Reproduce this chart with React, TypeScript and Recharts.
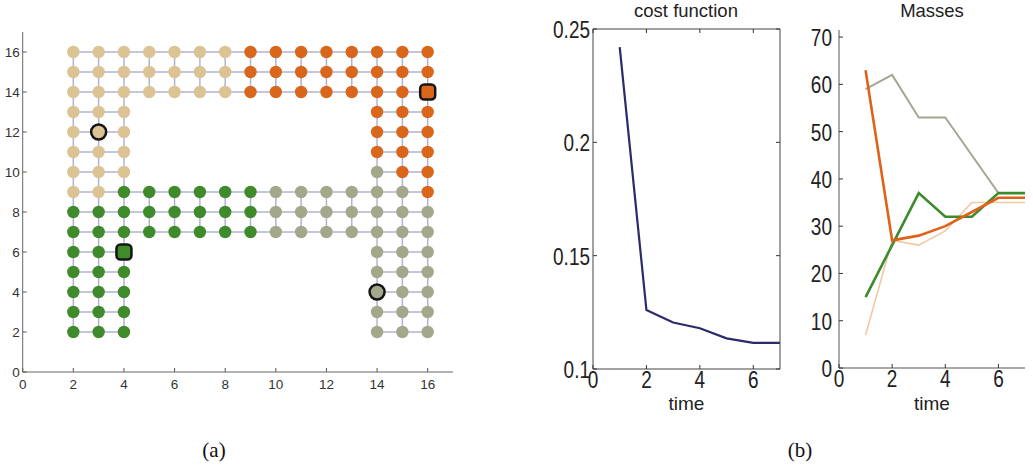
import React from 'react';
import { ScatterChart, Scatter, LineChart, Line, XAxis, YAxis, ReferenceLine } from 'recharts';

// panel (a): graph nodes, one row per y value -> list of x positions
type Row = [number, number[]];

const tanRows: Row[] = [
  [16, [2, 3, 4, 5, 6, 7, 8]],
  [15, [2, 3, 4, 5, 6, 7, 8]],
  [14, [2, 3, 4, 5, 6, 7, 8]],
  [13, [2, 3, 4]],
  [12, [2, 3, 4]],
  [11, [2, 3, 4]],
  [10, [2, 3, 4]],
  [9, [2, 3]],
];

const orangeRows: Row[] = [
  [16, [9, 10, 11, 12, 13, 14, 15, 16]],
  [15, [9, 10, 11, 12, 13, 14, 15, 16]],
  [14, [9, 10, 11, 12, 13, 14, 15, 16]],
  [13, [14, 15, 16]],
  [12, [14, 15, 16]],
  [11, [14, 15, 16]],
  [10, [15, 16]],
  [9, [16]],
];

const greenRows: Row[] = [
  [9, [4, 5, 6, 7, 8, 9]],
  [8, [2, 3, 4, 5, 6, 7, 8, 9]],
  [7, [2, 3, 4, 5, 6, 7, 8, 9]],
  [6, [2, 3, 4]],
  [5, [2, 3, 4]],
  [4, [2, 3, 4]],
  [3, [2, 3, 4]],
  [2, [2, 3, 4]],
];

const grayRows: Row[] = [
  [10, [14]],
  [9, [10, 11, 12, 13, 14, 15]],
  [8, [10, 11, 12, 13, 14, 15, 16]],
  [7, [10, 11, 12, 13, 14, 15, 16]],
  [6, [14, 15, 16]],
  [5, [14, 15, 16]],
  [4, [14, 15, 16]],
  [3, [14, 15, 16]],
  [2, [14, 15, 16]],
];

const tanCenter = [{ x: 3, y: 12 }];
const orangeCenter = [{ x: 16, y: 14 }];
const greenCenter = [{ x: 4, y: 6 }];
const grayCenter = [{ x: 14, y: 4 }];

const gridTicks = [0, 2, 4, 6, 8, 10, 12, 14, 16];

// panel (b)
const times = [1, 2, 3, 4, 5, 6, 7];
const costValues = [0.242, 0.126, 0.1205, 0.118, 0.1135, 0.1115, 0.1115];
const massGray = [59, 62, 53, 53, 45, 37, 37];
const massOrange = [63, 27, 28, 30, 33, 36, 36];
const massGreen = [15, 26, 37, 32, 32, 37, 37];
const massTan = [7, 27, 26, 29, 35, 35, 35];

const timeTicks = [0, 2, 4, 6];
const costTicks = [0.1, 0.15, 0.2, 0.25];
const massTicks = [0, 10, 20, 30, 40, 50, 60, 70];

const C = {
  tan: '#dcc394',
  orange: '#d9661b',
  green: '#3f8a2b',
  gray: '#a3a88b',
  edge: '#b0b3d6',
};

const FONT = '"Liberation Sans", Arial, sans-serif';

const toPoints = (rows: Row[]) => rows.flatMap(([y, xs]) => xs.map(x => ({ x, y })));

const tanNodes = toPoints(tanRows);
const orangeNodes = toPoints(orangeRows);
const greenNodes = toPoints(greenRows);
const grayNodes = toPoints(grayRows);

// edges join neighbouring nodes; collapse them into straight runs
function buildRuns(nodes: { x: number; y: number }[], horizontal: boolean) {
  const groups: Record<number, number[]> = {};
  nodes.forEach(n => {
    const k = horizontal ? n.y : n.x;
    const v = horizontal ? n.x : n.y;
    (groups[k] = groups[k] || []).push(v);
  });
  const segs: { x: number; y: number }[][] = [];
  Object.keys(groups).forEach(key => {
    const k = Number(key);
    const vals = groups[k].sort((a, b) => a - b);
    let start = vals[0];
    for (let i = 1; i <= vals.length; i++) {
      if (i === vals.length || vals[i] !== vals[i - 1] + 1) {
        const end = vals[i - 1];
        if (end > start) {
          segs.push(horizontal ? [{ x: start, y: k }, { x: end, y: k }] : [{ x: k, y: start }, { x: k, y: end }]);
        }
        start = vals[i];
      }
    }
  });
  return segs;
}

const allNodes = [...tanNodes, ...orangeNodes, ...greenNodes, ...grayNodes];
const edgeRuns = [...buildRuns(allNodes, true), ...buildRuns(allNodes, false)];

const costData = times.map((t, i) => ({ t, cost: costValues[i] }));
const massData = times.map((t, i) => ({
  t,
  gray: massGray[i],
  orange: massOrange[i],
  green: massGreen[i],
  tan: massTan[i],
}));

const dot = (color: string) => (p: any) => <circle cx={p.cx} cy={p.cy} r={6.2} fill={color} />;
const ringDot = (color: string) => (p: any) => (
  <circle cx={p.cx} cy={p.cy} r={7.5} fill={color} stroke="#151515" strokeWidth={2.5} />
);
const squareDot = (color: string) => (p: any) => (
  <rect x={p.cx - 7.5} y={p.cy - 7.5} width={15} height={15} rx={4} fill={color} stroke="#151515" strokeWidth={2.5} />
);

// ticks, matlab style: marks point into the plot
const AxTickX = (props: any) => {
  const { x, y, payload } = props;
  return (
    <g>
      <line x1={x} x2={x} y1={y} y2={y - 4} stroke="#555" />
      <text x={x} y={y + 17} textAnchor="middle" fontSize={13.5} fill="#333" fontFamily={FONT}>{payload.value}</text>
    </g>
  );
};

const AxTickY = (props: any) => {
  const { x, y, payload } = props;
  return (
    <g>
      <line x1={x} x2={x + 4} y1={y} y2={y} stroke="#555" />
      <text x={x - 3} y={y + 5} textAnchor="end" fontSize={13.5} fill="#333" fontFamily={FONT}>{payload.value}</text>
    </g>
  );
};

const BTickX = (props: any) => {
  const { x, y, payload } = props;
  return (
    <g>
      <line x1={x} x2={x} y1={y} y2={y - 4} stroke="#333" />
      <text transform={`translate(${x},${y + 19}) scale(1,1.3)`} textAnchor="middle" fontSize={19} fill="#222" fontFamily={FONT}>{payload.value}</text>
    </g>
  );
};

const makeBTickY = (gap: number) => (props: any) => {
  const { x, y, payload } = props;
  return (
    <g>
      <line x1={x} x2={x + 4} y1={y} y2={y} stroke="#333" />
      <text transform={`translate(${x - gap},${y + 9}) scale(1,1.3)`} textAnchor="end" fontSize={19} fill="#222" fontFamily={FONT}>{payload.value}</text>
    </g>
  );
};

// top axis: tickMargin 0, tickSize 0 -> y is the axis line itself (height 1 box)
const TopTick = (props: any) => {
  const { x, y } = props;
  return <line x1={x} x2={x} y1={y} y2={y + 4} stroke="#333" />;
};

const RightTick = (props: any) => {
  const { x, y } = props;
  return <line x1={x} x2={x - 4} y1={y} y2={y} stroke="#333" />;
};

const titleStyle: React.CSSProperties = {
  position: 'absolute',
  top: 1,
  fontFamily: FONT,
  fontSize: 18.5,
  lineHeight: 1.1,
  color: '#222',
  transform: 'translateX(-50%)',
  whiteSpace: 'nowrap',
};

const capStyle: React.CSSProperties = {
  position: 'absolute',
  fontFamily: '"Liberation Serif", "Times New Roman", serif',
  fontSize: 21,
  lineHeight: 1,
  color: '#111',
  transform: 'translateX(-50%)',
};

const App: React.FC = () => {
  return (
    <div style={{ position: 'absolute', left: 0, top: 0, width: 1033, height: 465, background: '#fff', overflow: 'hidden' }}>
      {/* (a) graph partition */}
      <div style={{ position: 'absolute', left: 0, top: 0 }}>
        <ScatterChart width={470} height={400} margin={{ top: 32, right: 17, bottom: 0, left: 0 }}>
          <XAxis
            type="number"
            dataKey="x"
            domain={[0, 17]}
            ticks={gridTicks}
            interval={0}
            height={28}
            tickSize={0}
            tickMargin={0}
            tickLine={false}
            tick={<AxTickX />}
            axisLine={{ stroke: '#666' }}
            allowDataOverflow
          />
          <YAxis
            type="number"
            dataKey="y"
            domain={[0, 17]}
            ticks={gridTicks}
            interval={0}
            width={22.7}
            tickSize={0}
            tickMargin={0}
            tickLine={false}
            tick={<AxTickY />}
            axisLine={{ stroke: '#666' }}
            allowDataOverflow
          />
          {edgeRuns.map((seg, i) => (
            <ReferenceLine key={i} segment={seg} stroke={C.edge} strokeWidth={1.5} />
          ))}
          <Scatter data={tanNodes} shape={dot(C.tan)} isAnimationActive={false} />
          <Scatter data={orangeNodes} shape={dot(C.orange)} isAnimationActive={false} />
          <Scatter data={greenNodes} shape={dot(C.green)} isAnimationActive={false} />
          <Scatter data={grayNodes} shape={dot(C.gray)} isAnimationActive={false} />
          <Scatter data={tanCenter} shape={ringDot(C.tan)} isAnimationActive={false} />
          <Scatter data={orangeCenter} shape={squareDot(C.orange)} isAnimationActive={false} />
          <Scatter data={greenCenter} shape={squareDot(C.green)} isAnimationActive={false} />
          <Scatter data={grayCenter} shape={ringDot(C.gray)} isAnimationActive={false} />
        </ScatterChart>
      </div>

      {/* (b) cost function */}
      <div style={{ ...titleStyle, left: 686 }}>cost function</div>
      <div style={{ position: 'absolute', left: 520, top: 0 }}>
        <LineChart width={270} height={420} data={costData} margin={{ top: 28, right: 9, bottom: 0, left: 0 }}>
          <XAxis
            dataKey="t"
            type="number"
            domain={[0, 7]}
            ticks={timeTicks}
            interval={0}
            height={51}
            tickSize={0}
            tickMargin={0}
            tickLine={false}
            tick={<BTickX />}
            axisLine={{ stroke: '#444' }}
            label={{ value: 'time', position: 'insideBottom', offset: 10, fontSize: 19, fill: '#222', fontFamily: FONT }}
          />
          <XAxis
            xAxisId="top"
            dataKey="t"
            orientation="top"
            type="number"
            domain={[0, 7]}
            ticks={timeTicks}
            interval={0}
            height={1}
            tickSize={0}
            tickMargin={0}
            tickLine={false}
            tick={<TopTick />}
            axisLine={{ stroke: '#444' }}
            allowDataOverflow
          />
          <YAxis
            type="number"
            domain={[0.1, 0.25]}
            ticks={costTicks}
            interval={0}
            width={73}
            tickSize={0}
            tickMargin={0}
            tickLine={false}
            tick={makeBTickY(3)}
            axisLine={{ stroke: '#444' }}
            allowDataOverflow
          />
          <YAxis
            yAxisId="right"
            orientation="right"
            type="number"
            domain={[0.1, 0.25]}
            ticks={costTicks}
            interval={0}
            width={1}
            tickSize={0}
            tickMargin={0}
            tickLine={false}
            tick={<RightTick />}
            axisLine={{ stroke: '#444' }}
            allowDataOverflow
          />
          {/* invisible twin so the box axes (top/right) get drawn */}
          <Line xAxisId="top" yAxisId="right" dataKey="cost" stroke="none" dot={false} isAnimationActive={false} />
          <Line dataKey="cost" stroke="#2b2b6b" strokeWidth={2.2} dot={false} isAnimationActive={false} />
        </LineChart>
      </div>

      {/* (b) masses */}
      <div style={{ ...titleStyle, left: 932 }}>Masses</div>
      <div style={{ position: 'absolute', left: 790, top: 0 }}>
        <LineChart width={243} height={420} data={massData} margin={{ top: 30, right: 8, bottom: 0, left: 0 }}>
          <XAxis
            dataKey="t"
            type="number"
            domain={[0, 7]}
            ticks={timeTicks}
            interval={0}
            height={52}
            tickSize={0}
            tickMargin={0}
            tickLine={false}
            tick={<BTickX />}
            axisLine={{ stroke: '#555' }}
            label={{ value: 'time', position: 'insideBottom', offset: 10, fontSize: 19, fill: '#222', fontFamily: FONT }}
          />
          <YAxis
            type="number"
            domain={[0, 71.5]}
            ticks={massTicks}
            interval={0}
            width={49}
            tickSize={0}
            tickMargin={0}
            tickLine={false}
            tick={makeBTickY(7)}
            axisLine={{ stroke: '#555' }}
            allowDataOverflow
          />
          <Line dataKey="gray" stroke="#a6a697" strokeWidth={2} dot={false} isAnimationActive={false} />
          <Line dataKey="tan" stroke="#f0c9a2" strokeWidth={1.6} dot={false} isAnimationActive={false} />
          <Line dataKey="green" stroke="#3d8b2c" strokeWidth={2.6} dot={false} isAnimationActive={false} />
          <Line dataKey="orange" stroke="#e0611a" strokeWidth={2.6} dot={false} isAnimationActive={false} />
        </LineChart>
      </div>

      <div style={{ ...capStyle, left: 214, top: 440 }}>(a)</div>
      <div style={{ ...capStyle, left: 800, top: 440 }}>(b)</div>
    </div>
  );
};

export default App;
